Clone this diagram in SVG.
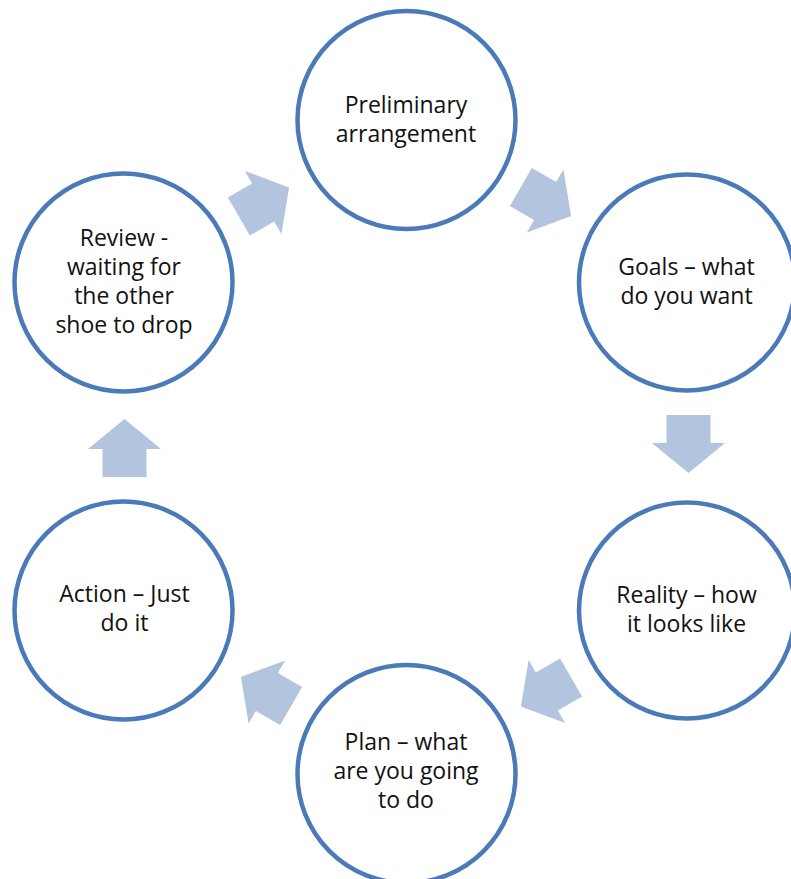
<svg xmlns="http://www.w3.org/2000/svg" xmlns:xlink="http://www.w3.org/1999/xlink" width="791" height="879" viewBox="0 0 791 879">
  <style>
    .ring { fill: #ffffff; stroke: #4a7ab8; stroke-width: 4.5; }
    .lbl { font-family: "Open Sans", "Liberation Sans", sans-serif; font-size: 23px; fill: #111111; text-anchor: middle; }
    .step { fill: #b3c4df; }
  </style>
  <defs>
    <!-- block arrow pointing right, centred on the origin -->
    <polygon id="blk" points="-29,-22 -1,-22 -1,-36.5 29,0 -1,36.5 -1,22 -29,22"/>
  </defs>
  <rect width="791" height="879" fill="#ffffff"/>

  <g id="connectors" class="step">
    <use xlink:href="#blk" transform="translate(546,201.5) rotate(30)"/>
    <use xlink:href="#blk" transform="translate(688.5,444) rotate(90)"/>
    <use xlink:href="#blk" transform="translate(546,692) rotate(150)"/>
    <use xlink:href="#blk" transform="translate(266,691.5) rotate(210)"/>
    <use xlink:href="#blk" transform="translate(124.5,448) rotate(270)"/>
    <use xlink:href="#blk" transform="translate(264,202) rotate(330)"/>
  </g>

  <g id="preliminary">
    <circle class="ring" cx="406.5" cy="120" r="109"/>
    <text class="lbl" x="406" y="113">Preliminary</text>
    <text class="lbl" x="406" y="142">arrangement</text>
  </g>

  <g id="goals">
    <circle class="ring" cx="687" cy="282.5" r="108"/>
    <text class="lbl" x="686.5" y="275">Goals – what</text>
    <text class="lbl" x="686.5" y="304">do you want</text>
  </g>

  <g id="reality">
    <circle class="ring" cx="687" cy="610.5" r="108"/>
    <text class="lbl" x="686.5" y="603">Reality – how</text>
    <text class="lbl" x="686.5" y="632">it looks like</text>
  </g>

  <g id="plan">
    <circle class="ring" cx="406.5" cy="774" r="109"/>
    <text class="lbl" x="406" y="750">Plan – what</text>
    <text class="lbl" x="406" y="779">are you going</text>
    <text class="lbl" x="406" y="808">to do</text>
  </g>

  <g id="action">
    <circle class="ring" cx="123.5" cy="610.5" r="109"/>
    <text class="lbl" x="124.5" y="602">Action – Just</text>
    <text class="lbl" x="124.5" y="631">do it</text>
  </g>

  <g id="review">
    <circle class="ring" cx="123.5" cy="282.5" r="109"/>
    <text class="lbl" x="124" y="246">Review -</text>
    <text class="lbl" x="124" y="275">waiting for</text>
    <text class="lbl" x="124" y="304">the other</text>
    <text class="lbl" x="124" y="333">shoe to drop</text>
  </g>
</svg>
